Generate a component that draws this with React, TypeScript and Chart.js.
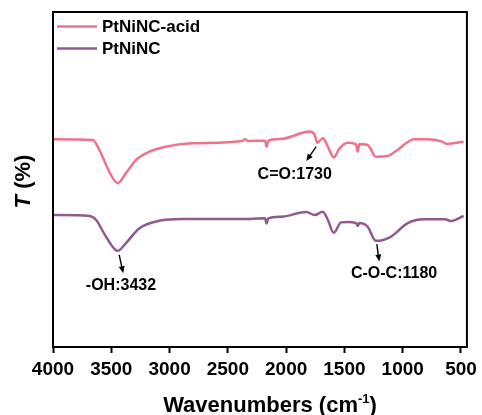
import React, { useEffect, useRef } from "react";
import { Chart, registerables } from "chart.js";

Chart.register(...registerables);

// ---- data ----
const acidWavenumbers = [4000, 3659, 3602, 3517, 3446, 3374, 3289, 3176, 3034, 2807, 2381, 2352, 2324, 2181, 2168, 2153, 2040, 1798, 1755, 1733, 1685, 1642, 1591, 1542, 1471, 1401, 1386, 1372, 1301, 1230, 1131, 1045, 903, 790, 662, 620, 477];
const acidT = [62.0, 61.8, 58.8, 52.3, 48.9, 51.9, 55.8, 58.3, 59.8, 60.8, 61.5, 62.0, 61.5, 61.6, 59.8, 61.6, 62.1, 64.3, 63.3, 61.0, 62.3, 59.8, 56.6, 59.3, 61.0, 60.5, 58.3, 60.6, 60.3, 56.8, 57.0, 58.8, 62.0, 62.0, 61.3, 60.6, 61.3];

const baseWavenumbers = [4000, 3687, 3630, 3545, 3446, 3374, 3261, 3090, 2892, 2381, 2181, 2168, 2153, 2040, 1827, 1755, 1685, 1642, 1591, 1529, 1471, 1400, 1386, 1372, 1301, 1230, 1103, 960, 818, 634, 591, 477];
const baseT = [39.4, 39.1, 37.9, 32.9, 28.7, 31.0, 35.4, 37.7, 38.2, 38.2, 38.4, 36.9, 38.4, 38.9, 40.3, 39.4, 40.4, 37.9, 34.1, 37.2, 37.3, 37.0, 36.1, 37.0, 35.9, 31.7, 32.9, 36.9, 38.1, 38.1, 37.6, 39.1];

const seriesNames = ["PtNiNC-acid", "PtNiNC"];
const seriesColors = ["#F0728A", "#8E5B8C"];
const xTickValues = [4000, 3500, 3000, 2500, 2000, 1500, 1000, 500];

// annotations: label, text position [wn, T], arrow from [wn, T], arrow to [wn, T]
const annotationLabels = ["C=O:1730", "-OH:3432", "C-O-C:1180"];
const annotationTextPos = [[1926, 51.6], [3417, 18.3], [1074, 21.8]];
const annotationArrowFrom = [[1742, 59.8], [3432, 27.5], [1222, 30.7]];
const annotationArrowTo = [[1827, 55.5], [3398, 22.0], [1201, 25.5]];

const FONT = "'Liberation Sans', Arial, Helvetica, sans-serif";

const decorPlugin = {
  id: "decor",
  afterDatasetsDraw(chart: any) {
    const { ctx, chartArea, scales } = chart;
    const xs = scales.x;
    const ys = scales.y;
    ctx.save();
    // frame
    ctx.strokeStyle = "#000";
    ctx.lineWidth = 2;
    ctx.strokeRect(chartArea.left, chartArea.top, chartArea.right - chartArea.left, chartArea.bottom - chartArea.top);

    // legend
    const lx = chartArea.left + 4;
    const rowsY = [chartArea.top + 14.5, chartArea.top + 36.5];
    seriesNames.forEach((name, i) => {
      ctx.strokeStyle = seriesColors[i];
      ctx.lineWidth = 2.5;
      ctx.beginPath();
      ctx.moveTo(lx, rowsY[i]);
      ctx.lineTo(lx + 40, rowsY[i]);
      ctx.stroke();
      ctx.fillStyle = "#000";
      ctx.font = `bold 17px ${FONT}`;
      ctx.textAlign = "left";
      ctx.textBaseline = "middle";
      ctx.fillText(name, lx + 45, rowsY[i] + 1);
    });

    // annotations
    ctx.font = `bold 16px ${FONT}`;
    ctx.fillStyle = "#000";
    ctx.textAlign = "center";
    ctx.textBaseline = "middle";
    annotationLabels.forEach((label, i) => {
      const tx = xs.getPixelForValue(annotationTextPos[i][0]);
      const ty = ys.getPixelForValue(annotationTextPos[i][1]);
      ctx.fillText(label, tx, ty);
      const x1 = xs.getPixelForValue(annotationArrowFrom[i][0]);
      const y1 = ys.getPixelForValue(annotationArrowFrom[i][1]);
      const x2 = xs.getPixelForValue(annotationArrowTo[i][0]);
      const y2 = ys.getPixelForValue(annotationArrowTo[i][1]);
      const ang = Math.atan2(y2 - y1, x2 - x1);
      const hl = 7;
      const hw = 3;
      ctx.strokeStyle = "#000";
      ctx.lineWidth = 1.4;
      ctx.beginPath();
      ctx.moveTo(x1, y1);
      ctx.lineTo(x2 - Math.cos(ang) * hl * 0.8, y2 - Math.sin(ang) * hl * 0.8);
      ctx.stroke();
      ctx.beginPath();
      ctx.moveTo(x2, y2);
      ctx.lineTo(x2 - Math.cos(ang) * hl - Math.sin(ang) * hw, y2 - Math.sin(ang) * hl + Math.cos(ang) * hw);
      ctx.lineTo(x2 - Math.cos(ang) * hl + Math.sin(ang) * hw, y2 - Math.sin(ang) * hl - Math.cos(ang) * hw);
      ctx.closePath();
      ctx.fill();
    });

    // y title: T (%)
    ctx.save();
    ctx.translate(24, (chartArea.top + chartArea.bottom) / 2 + 2);
    ctx.rotate(-Math.PI / 2);
    ctx.textBaseline = "middle";
    ctx.textAlign = "left";
    ctx.font = `italic bold 22px ${FONT}`;
    const tW = ctx.measureText("T").width;
    ctx.font = `bold 22px ${FONT}`;
    const rest = " (%)";
    const rW = ctx.measureText(rest).width;
    const start = -(tW + rW) / 2;
    ctx.font = `italic bold 22px ${FONT}`;
    ctx.fillText("T", start, 0);
    ctx.font = `bold 22px ${FONT}`;
    ctx.fillText(rest, start + tW, 0);
    ctx.restore();

    // x title: Wavenumbers (cm-1)
    const main = "Wavenumbers (cm";
    const sup = "-1";
    const close = ")";
    ctx.textAlign = "left";
    ctx.textBaseline = "alphabetic";
    ctx.font = `bold 22px ${FONT}`;
    const mW = ctx.measureText(main).width;
    const cW = ctx.measureText(close).width;
    ctx.font = `bold 13px ${FONT}`;
    const sW = ctx.measureText(sup).width;
    const total = mW + sW + cW;
    const cx = 270;
    const base = 412;
    const x0 = cx - total / 2;
    ctx.font = `bold 22px ${FONT}`;
    ctx.fillText(main, x0, base);
    ctx.font = `bold 13px ${FONT}`;
    ctx.fillText(sup, x0 + mW, base - 9);
    ctx.font = `bold 22px ${FONT}`;
    ctx.fillText(close, x0 + mW + sW, base);
    ctx.restore();
  },
};

export default function App() {
  const ref = useRef<HTMLCanvasElement | null>(null);
  useEffect(() => {
    if (!ref.current) return;
    const chart = new Chart(ref.current, {
      type: "line",
      data: {
        datasets: [
          {
            label: seriesNames[0],
            data: acidWavenumbers.map((x, i) => ({ x, y: acidT[i] })),
            borderColor: seriesColors[0],
            borderWidth: 2.5,
            pointRadius: 0,
            cubicInterpolationMode: "monotone",
            fill: false,
          },
          {
            label: seriesNames[1],
            data: baseWavenumbers.map((x, i) => ({ x, y: baseT[i] })),
            borderColor: seriesColors[1],
            borderWidth: 2.5,
            pointRadius: 0,
            cubicInterpolationMode: "monotone",
            fill: false,
          },
        ],
      },
      options: {
        animation: false,
        responsive: false,
        maintainAspectRatio: false,
        layout: { padding: { left: 53, right: 12, top: 12, bottom: 0 } },
        plugins: { legend: { display: false }, tooltip: { enabled: false }, title: { display: false } },
        scales: {
          x: {
            type: "linear",
            reverse: true,
            min: 449,
            max: 4000,
            afterBuildTicks: (scale: any) => {
              scale.ticks = xTickValues.map((v) => ({ value: v }));
            },
            afterFit: (scale: any) => {
              scale.height = 68;
            },
            border: { display: false },
            grid: {
              display: true,
              drawOnChartArea: false,
              drawTicks: true,
              tickLength: 6,
              tickWidth: 2,
              tickColor: "#000",
              color: "#000",
            },
            ticks: {
              autoSkip: false,
              maxRotation: 0,
              padding: 5,
              color: "#000",
              font: { family: FONT, size: 19, weight: "bold" },
              callback: (v: any) => String(v),
            },
            title: { display: false },
          },
          y: {
            type: "linear",
            display: false,
            min: 0,
            max: 100,
          },
        },
      },
      plugins: [decorPlugin],
    } as any);
    return () => chart.destroy();
  }, []);
  return (
    <div style={{ position: "fixed", left: 0, top: 0, width: 482, height: 415, background: "#fff" }}>
      <canvas ref={ref} width={482} height={415} style={{ width: 482, height: 415, display: "block" }} />
    </div>
  );
}
